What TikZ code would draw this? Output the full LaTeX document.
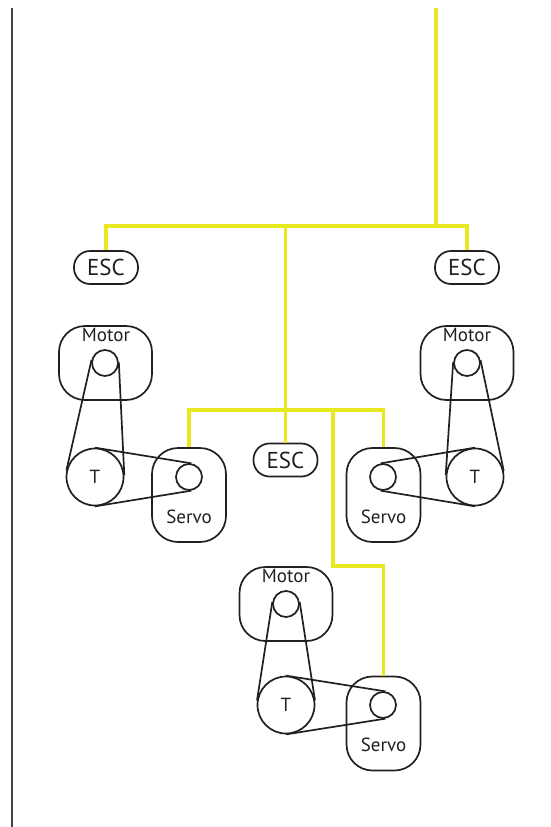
\documentclass[tikz,border=0pt]{standalone}
\usepackage{fontspec}
\setmainfont{PT Sans}
\usetikzlibrary{positioning}
\definecolor{busyellow}{HTML}{E8E81E}
\definecolor{inkblack}{HTML}{231F20}

\begin{document}
\begin{tikzpicture}[
  x=1pt, y=-1pt,
  font=\fontsize{19}{22}\selectfont,
  text=inkblack,
  esc/.style={draw=inkblack, line width=1.7pt, rounded corners=16pt, inner sep=0pt,
    minimum width=64pt, minimum height=33pt, font=\fontsize{23}{26}\selectfont},
  box/.style={draw=inkblack, line width=1.7pt, rounded corners=26pt, inner sep=0pt},
  motorbox/.style={box, minimum width=93pt, minimum height=74pt},
  servobox/.style={box, minimum width=74pt, minimum height=94pt},
  pulley/.style={draw=inkblack, line width=1.7pt, circle, inner sep=0pt, minimum size=26pt},
  tpulley/.style={draw=inkblack, line width=1.7pt, circle, inner sep=0pt, minimum size=57pt},
  belt/.style={draw=inkblack, line width=1.7pt},
  bus/.style={draw=busyellow, line width=3.4pt}
]
\useasboundingbox (0,0) rectangle (551,827);

\draw[draw=inkblack!85, line width=2.2pt] (12,8) coordinate (railtop) -- (12,827) coordinate (railbot);

\node[esc] (esc1) at (106,267.5) {ESC};
\node[esc] (esc2) at (467,267.5) {ESC};
\node[esc] (esc3) at (285.5,460) {ESC};

% left
\node[motorbox] (motor1) at (105.5,363) {};
\node (motortxt1) at (106,335) {Motor};
\node[pulley] (mp1) at (105,363) {};
\node[tpulley] (t1) at (95,477) {T};
\node[servobox] (servo1) at (189,495) {};
\node (servotxt1) at (189,517) {Servo};
\node[pulley] (sp1) at (189,477) {};
\draw[belt] (mp1.167) -- (t1.167);
\draw[belt] (mp1.3) -- (t1.3);
\draw[belt] (t1.90) -- (sp1.80);
\draw[belt] (t1.270) -- (sp1.280);

% right
\node[motorbox] (motor2) at (467,363) {};
\node (motortxt2) at (467,335) {Motor};
\node[pulley] (mp2) at (467,363) {};
\node[tpulley] (t2) at (475,477) {T};
\node[servobox] (servo2) at (383.5,495) {};
\node (servotxt2) at (383.5,517) {Servo};
\node[pulley] (sp2) at (383,477) {};
\draw[belt] (mp2.176) -- (t2.176);
\draw[belt] (mp2.12) -- (t2.12);
\draw[belt] (t2.90) -- (sp2.100);
\draw[belt] (t2.270) -- (sp2.260);

% bottom
\node[motorbox] (motor3) at (286,604) {};
\node (motortxt3) at (286,576) {Motor};
\node[pulley] (mp3) at (286,604) {};
\node[tpulley] (t3) at (286,705) {T};
\node[servobox] (servo3) at (383.5,723.5) {};
\node (servotxt3) at (383.5,745) {Servo};
\node[pulley] (sp3) at (383,705) {};
\draw[belt] (mp3.171) -- (t3.171);
\draw[belt] (mp3.9) -- (t3.9);
\draw[belt] (t3.90) -- (sp3.80);
\draw[belt] (t3.270) -- (sp3.280);

% wiring
\coordinate (top) at (436,8);
\coordinate (bus1) at (285.5,226);
\coordinate (bus2) at (285.5,410);
\coordinate (branch) at (333,410);
\coordinate (branchlow) at (333,566);
\draw[bus] (esc1.north) |- (bus1) -| (esc2.north);
\draw[bus] (top) -- (top |- bus1);
\draw[bus] (bus1) -- (esc3.north);
\draw[bus] (servo1.north) |- (bus2) -| (servo2.north);
\draw[bus] (branch) -- (branchlow) -| (servo3.north);
\end{tikzpicture}
\end{document}
